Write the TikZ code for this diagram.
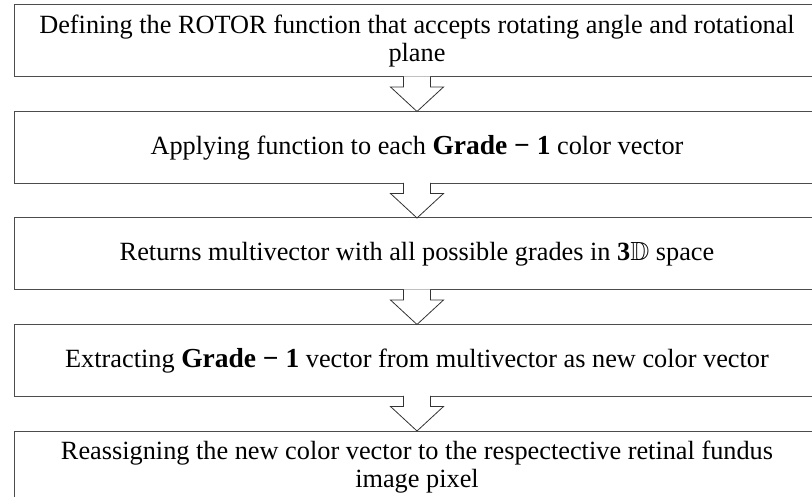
\documentclass[tikz,border=0pt]{standalone}
\usepackage{amssymb}
\usepackage{fontspec}
\setmainfont{Liberation Serif}
\usepackage{tikz}
\usetikzlibrary{positioning}

\newcommand{\gradeone}{{\fontsize{27.5}{29}\selectfont\bfseries Grade \textminus\ 1}}

\begin{document}
\begin{tikzpicture}[
    stepbox/.style = {draw = black!70, line width = 1pt, fill = white,
                      minimum width = 806pt, minimum height = 72pt,
                      inner sep = 0pt, outer sep = 0pt, align = center,
                      font = \fontsize{26.3}{28.5}\selectfont},
    blockarrow/.style = {draw = black!80, line width = 0.8pt, fill = white}
  ]
  \useasboundingbox (0,0) rectangle (812pt,-497pt);

  \node[stepbox, anchor = north west] (def) at (14pt,-5pt)
    {Defining the ROTOR function that accepts rotating angle and rotational\\plane};
  \node[stepbox, below = 34.5pt of def] (apply)
    {Applying function to each \gradeone{} color vector};
  \node[stepbox, below = 34.5pt of apply] (ret)
    {Returns multivector with all possible grades in {\bfseries 3}$\mathbb{D}$ space};
  \node[stepbox, below = 34.5pt of ret] (extract)
    {Extracting \gradeone{} vector from multivector as new color vector};
  \node[stepbox, below = 34.5pt of extract] (assign)
    {Reassigning the new color vector to the respectective retinal fundus\\image pixel};

  % hollow arrows between the steps
  \foreach \a/\b in {def/apply, apply/ret, ret/extract, extract/assign}
    \filldraw[blockarrow]
      ([xshift = -13.5pt, yshift = 0.6pt]\a.south) -- ++(0,-10.6pt) -- ++(-13pt,0)
      -- (\b.north)
      -- ([xshift = 26.5pt, yshift = -10pt]\a.south) -- ++(-13pt,0)
      -- ([xshift = 13.5pt, yshift = 0.6pt]\a.south);
\end{tikzpicture}
\end{document}
